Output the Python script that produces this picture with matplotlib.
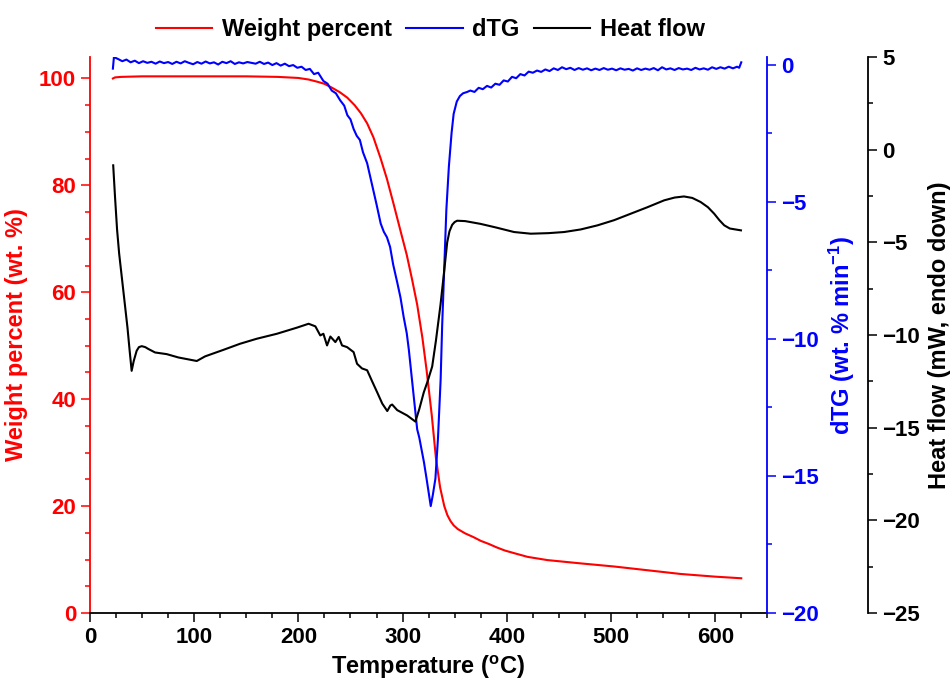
import matplotlib
matplotlib.use("Agg")
import matplotlib.pyplot as plt
from matplotlib.ticker import MultipleLocator

plt.rcParams['font.family'] = ['Liberation Sans', 'DejaVu Sans']
plt.rcParams['font.weight'] = 'bold'
plt.rcParams['mathtext.fontset'] = 'custom'
plt.rcParams['mathtext.rm'] = 'Liberation Sans:bold'
plt.rcParams['mathtext.bf'] = 'Liberation Sans:bold'
plt.rcParams['mathtext.default'] = 'bf'

# weight percent (TG)
t_w = [22, 24, 30, 50, 100, 150, 180, 200, 210, 218, 225, 232, 240, 247, 254,
       260, 266, 272, 279, 285, 291, 298, 304, 309, 314, 319, 323, 328, 332,
       336, 340, 343, 346, 349, 353, 360, 368, 375, 383, 390, 398, 407, 420,
       439, 470, 503, 535, 567, 600, 625]
w = [100.0, 100.2, 100.3, 100.4, 100.4, 100.4, 100.3, 100.1, 99.8, 99.4, 99.0,
     98.3, 97.4, 96.4, 95.0, 93.5, 91.6, 89.0, 85.0, 81.2, 76.8, 71.5, 67.0,
     62.5, 57.7, 51.5, 45.5, 37.0, 29.0, 23.5, 20.0, 18.3, 17.2, 16.4, 15.7,
     14.9, 14.2, 13.5, 12.9, 12.3, 11.7, 11.2, 10.5, 9.9, 9.3, 8.7, 8.0, 7.3,
     6.8, 6.5]

# dTG
t_d = [22, 23, 27, 31, 35, 39, 43, 47, 51, 55, 59, 63, 67, 71, 75, 79, 83, 87,
       91, 95, 99, 103, 107, 111, 115, 119, 123, 127, 131, 135, 139, 143, 147,
       151, 155, 159, 163, 167, 171, 175, 179, 183, 187, 191, 195, 199, 203,
       207, 211, 215, 219,
       224, 228, 232, 236, 240, 244, 247, 250, 253, 256, 259, 262, 266, 269,
       272, 275, 279, 282, 285, 288, 291, 295, 298, 301, 304, 306, 309, 312,
       314, 316, 318, 320.5, 323, 327, 329, 331.5, 334, 336.5, 338, 339.6,
       342, 344.4, 347, 349, 352, 355, 358, 362,
       365, 369, 373, 377, 381, 385, 389, 393, 397, 401, 405, 409, 413, 417,
       421, 425, 429, 433, 437, 441, 445, 449, 453, 457, 461, 465, 469, 473,
       477, 481, 485, 489, 493, 497, 501, 505, 509, 513, 517, 521, 525, 529,
       533, 537, 541, 545, 549, 553, 557, 561, 565, 569, 573, 577, 581, 585,
       589, 593, 597, 601, 605, 609, 613, 617, 621, 623, 625]
dtg = [-0.15, 0.27, 0.2, 0.12, 0.18, 0.08, 0.14, 0.05, 0.12, 0.06, 0.1, 0.03,
       0.11, 0.05, 0.09, 0.02, 0.1, 0.04, 0.12, 0.06, 0.01, 0.09, 0.03, 0.11,
       0.04, 0.08, 0.0, 0.1, 0.05, 0.12, 0.02, 0.08, 0.04, 0.09, 0.06, 0.03,
       0.1, 0.02, 0.07, -0.02, 0.05, -0.04, 0.03, -0.06, -0.02, -0.12, -0.08,
       -0.2, -0.16, -0.35, -0.3,
       -0.6, -0.7, -0.95, -1.05, -1.3, -1.5, -1.85, -2.0, -2.35, -2.6, -2.75,
       -3.2, -3.6, -4.1, -4.6, -5.1, -5.8, -6.1, -6.3, -6.65, -7.3, -7.97,
       -8.5, -9.2, -9.8, -10.4, -11.5, -12.6, -13.3, -13.6, -14.0, -14.5,
       -15.1, -16.1, -15.7, -15.1, -13.6, -11.5, -9.5, -7.85, -5.3, -3.73,
       -2.5, -1.8, -1.35, -1.15, -1.05, -1.0,
       -0.95, -1.0, -0.85, -0.9, -0.78, -0.84, -0.7, -0.74, -0.58, -0.62,
       -0.45, -0.5, -0.35, -0.4, -0.26, -0.3, -0.22, -0.27, -0.18, -0.24,
       -0.14, -0.2, -0.1, -0.17, -0.12, -0.2, -0.13, -0.19, -0.14, -0.21,
       -0.15, -0.2, -0.13, -0.19, -0.15, -0.21, -0.14, -0.19, -0.16, -0.22,
       -0.14, -0.2, -0.15, -0.19, -0.13, -0.21, -0.1, -0.18, -0.14, -0.2,
       -0.13, -0.18, -0.15, -0.2, -0.12, -0.18, -0.14, -0.19, -0.1, -0.16,
       -0.1, -0.15, -0.08, -0.14, -0.08, -0.12, 0.08]

# heat flow
t_h = [22.3, 24, 26, 28, 30, 32, 34, 36, 38, 40, 42, 44.8, 47, 49.7, 53, 56,
       62.5, 73.7, 84.9, 102.5, 110.5, 128, 144, 160, 179.4, 198.6, 209.8,
       216.3, 221, 224, 227.5, 230.7, 235.5, 238.7, 241.9, 246.7, 253, 256.3,
       261, 266, 270.8, 275.7, 280.5, 285.3, 288.3, 290, 294.8, 304.4, 312.3,
       316, 320.3, 324, 328.4, 332, 336.4, 340, 342.8, 345, 347.6, 350, 352.4,
       360, 374.8, 390, 407, 423, 440, 455, 471, 487, 503, 519, 535, 551, 561,
       570, 578, 586, 593, 599, 604, 608.7, 614, 624.7]
hf = [-0.84, -2.5, -4.3, -5.6, -6.6, -7.6, -8.6, -9.6, -10.8, -11.93, -11.4,
      -10.85, -10.65, -10.6, -10.65, -10.75, -10.94, -11.03, -11.21, -11.4,
      -11.15, -10.8, -10.47, -10.2, -9.93, -9.6, -9.39, -9.53, -10.02, -9.93,
      -10.56, -10.08, -10.38, -10.1, -10.56, -10.65, -10.92, -11.55, -11.8,
      -11.9, -12.5, -13.1, -13.7, -14.1, -13.8, -13.75, -14.05, -14.34,
      -14.67, -14.0, -13.1, -12.5, -11.7, -10.3, -8.36, -6.5, -5.0, -4.4,
      -4.05, -3.9, -3.83, -3.85, -4.0, -4.2, -4.44, -4.53, -4.5, -4.44, -4.3,
      -4.08, -3.8, -3.45, -3.1, -2.73, -2.58, -2.52, -2.6, -2.82, -3.1, -3.45,
      -3.8, -4.08, -4.25, -4.35]

fig = plt.figure(figsize=(9.52, 6.88), dpi=100)
ax = fig.add_axes([0.0945, 0.109, 0.7115, 0.808])
ax2 = ax.twinx()
ax3 = ax.twinx()
ax3.spines['right'].set_position(('axes', 1.149))

l1, = ax.plot(t_w, w, color='#ff0000', lw=1.5, label='Weight percent')
l2, = ax2.plot(t_d, dtg, color='#0000ff', lw=1.5, label='dTG')
l3, = ax3.plot(t_h, hf, color='black', lw=1.5, label='Heat flow')

ax.set_xlim(0, 650)
ax.set_ylim(0, 104)
ax2.set_ylim(-20, 0.27)
ax3.set_ylim(-25, 5)

ax.xaxis.set_major_locator(MultipleLocator(100))
ax.xaxis.set_minor_locator(MultipleLocator(25))
ax.yaxis.set_major_locator(MultipleLocator(20))
ax.yaxis.set_minor_locator(MultipleLocator(5))
ax2.yaxis.set_major_locator(MultipleLocator(5))
ax2.yaxis.set_minor_locator(MultipleLocator(2.5))
ax3.yaxis.set_major_locator(MultipleLocator(5))
ax3.yaxis.set_minor_locator(MultipleLocator(2.5))

for a in (ax, ax2, ax3):
    for s in a.spines.values():
        s.set_visible(False)
    a.tick_params(which='major', direction='out', length=6.5, width=1.1,
                  labelsize=16)
    a.tick_params(which='minor', direction='out', length=3.6, width=1.1)

ax.spines['left'].set_visible(True)
ax.spines['left'].set_color('#ff0000')
ax.spines['bottom'].set_visible(True)
ax.spines['bottom'].set_color('black')
ax2.spines['right'].set_visible(True)
ax2.spines['right'].set_color('#0000ff')
ax3.spines['right'].set_visible(True)
ax3.spines['right'].set_color('black')
for s in (ax.spines['left'], ax.spines['bottom'], ax2.spines['right'],
          ax3.spines['right']):
    s.set_linewidth(1.3)

ax.tick_params(axis='y', which='both', colors='#ff0000')
ax2.tick_params(axis='y', which='both', colors='#0000ff')
ax3.tick_params(axis='y', which='both', colors='black')

ax.set_xlabel('Temperature ($^{o}$C)', fontsize=17, fontweight='bold',
              labelpad=4)
ax.set_ylabel('Weight percent (wt. %)', fontsize=17, fontweight='bold',
              color='#ff0000', labelpad=8)
ax2.set_ylabel('dTG (wt. % min$^{-1}$)', fontsize=17, fontweight='bold',
               color='#0000ff', labelpad=6)
ax3.set_ylabel('Heat flow (mW, endo down)', fontsize=17, fontweight='bold',
               color='black', labelpad=6)

fig.legend(handles=[l1, l2, l3], loc='upper center',
           bbox_to_anchor=(0.452, 1.005), ncol=3, frameon=False,
           fontsize=17, handlelength=2.4, columnspacing=0.6,
           handletextpad=0.4)

fig.savefig('out.png', dpi=100)
